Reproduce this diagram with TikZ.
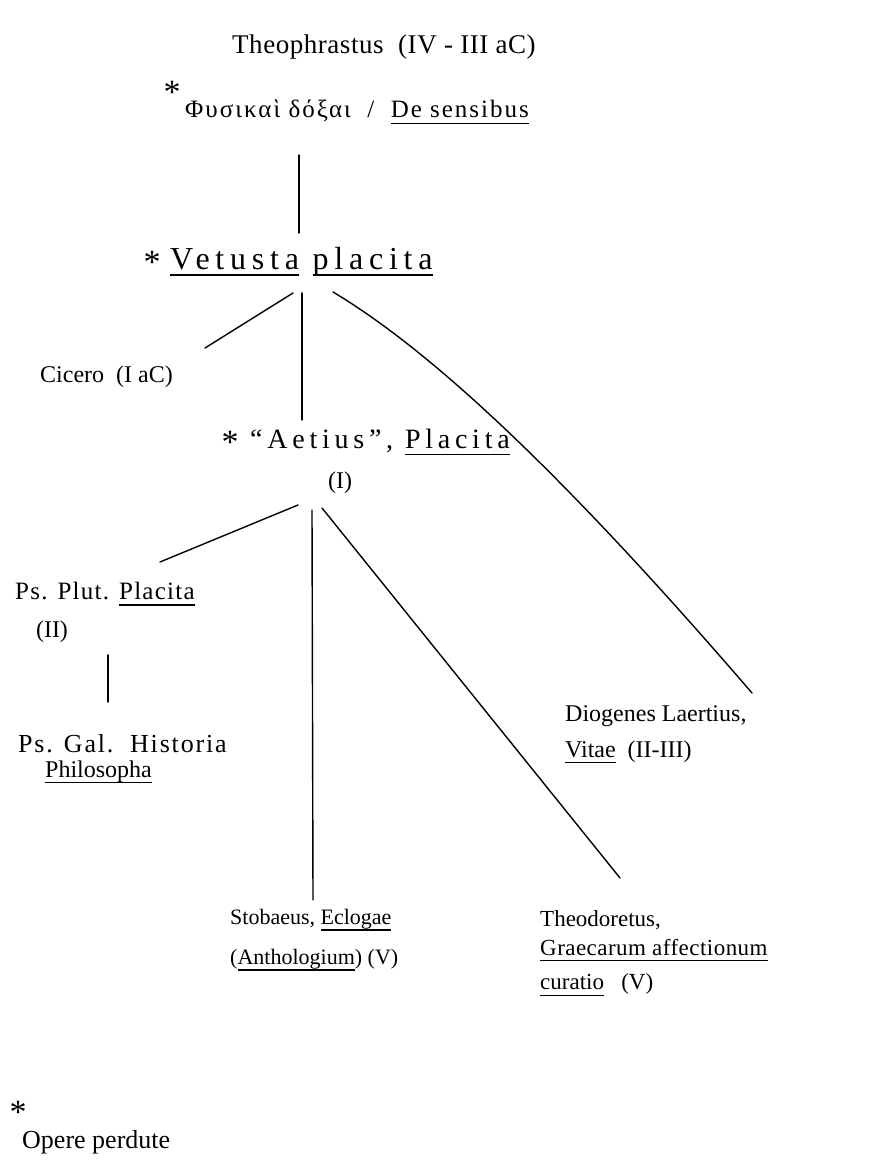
\documentclass[tikz,border=0pt]{standalone}
\usepackage{fontspec}
\setmainfont{Liberation Serif}
\newcommand{\myul}[1]{\begingroup\setbox0\hbox{#1}\rlap{\rule[-6pt]{\wd0}{1.2pt}}\box0\endgroup}
\newcommand{\fsz}[2]{\fontsize{#1}{#1}\selectfont\addfontfeature{LetterSpace=#2}}
\begin{document}
\begin{tikzpicture}[x=1pt,y=-1pt,
  txt/.style={inner sep=0pt, anchor=west, font=\fontsize{24}{28}\selectfont},
  ast/.style={inner sep=0pt, anchor=center, font=\fontsize{34}{34}\selectfont},
  link/.style={line width=1.4pt, line cap=round}]
\useasboundingbox (0,0) rectangle (875,1169);
\fill[white] (0,0) rectangle (875,1169);

% nodes
\node[txt, font=\fsz{27}{2}] (theo) at (232,47) {Theophrastus\ \ (IV - III aC)};
\node[ast] (s1) at (172,92) {*};
\node[txt, font=\fsz{25}{8}] (phys) at (185,112) {Φυσικαὶ δόξαι\ \ /\ \ \myul{De sensibus}};

\node[ast] (s2) at (152,262) {*};
\node[txt, font=\fsz{32}{18}] (vet) at (170,262) {\myul{Vetusta}\ \myul{placita}};

\node[txt] (cic) at (40,377) {Cicero\ \ (I aC)};

\node[ast] (s3) at (230,442) {*};
\node[txt, font=\fsz{28}{17}] (aet) at (250,442) {“Aetius”,\ \myul{Placita}};
\node[txt, anchor=center] (aetd) at (340,483) {(I)};

\node[txt, font=\fsz{25}{5}] (pp) at (15,594) {Ps. Plut. \myul{Placita}};
\node[txt, anchor=center] (ppd) at (52,632) {(II)};
\node[txt, font=\fsz{26}{7}] (pg) at (18,744) {Ps. Gal.\ \ Historia};
\node[txt] (pg2) at (45,772) {\myul{Philosopha}};

\node[txt] (dio) at (565,716) {Diogenes Laertius,};
\node[txt] (dio2) at (565,752) {\myul{Vitae}\ \ (II-III)};

\node[txt, font=\fsz{22}{0}] (sto) at (230,920) {Stobaeus,\ \myul{Eclogae}};
\node[txt, font=\fsz{22}{0}] (sto2) at (230,960) {(\myul{Anthologium})\ (V)};

\node[txt, font=\fsz{23}{0}] (thd) at (540,920) {Theodoretus,};
\node[txt, font=\fsz{23}{2}] (thd2) at (540,950) {\myul{Graecarum affectionum}};
\node[txt, font=\fsz{23}{0}] (thd3) at (540,985) {\myul{curatio}\ \ \ (V)};

\node[ast] (s4) at (18,1112) {*};
\node[txt, font=\fsz{26}{0}] (op) at (22,1142) {Opere perdute};

% connector end points
\coordinate (a1) at (299,155);
\coordinate (a2) at (299,233);
\coordinate (b1) at (293,293);
\coordinate (b2) at (205,348);
\coordinate (c1) at (302,293);
\coordinate (c2) at (302,420);
\coordinate (d1) at (333,292);
\coordinate (d2) at (752,693);
\coordinate (e1) at (298,505);
\coordinate (e2) at (160,562);
\coordinate (f1) at (312,510);
\coordinate (f2) at (313,900);
\coordinate (g1) at (322,508);
\coordinate (g2) at (620,878);
\coordinate (h1) at (108,655);
\coordinate (h2) at (108,702);

% connectors
\draw[link] (a1) -- (a2);
\draw[link] (b1) -- (b2);
\draw[link] (c1) -- (c2);
\draw[link] (d1) .. controls (430,350) and (560,470) .. (d2);
\draw[link] (e1) -- (e2);
\draw[link] (f1) -- (f2);
\draw[link] (g1) -- (g2);
\draw[link] (h1) -- (h2);
\end{tikzpicture}
\end{document}
